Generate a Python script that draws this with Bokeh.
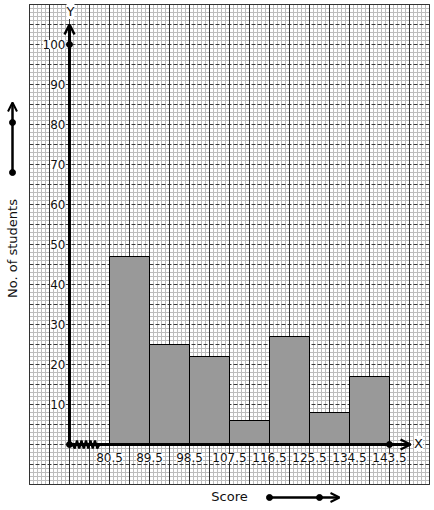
import numpy as np
from bokeh.plotting import figure
from bokeh.models import ColumnDataSource, LabelSet, Arrow, OpenHead
from bokeh.core.properties import value
from bokeh.embed import file_html
from bokeh.resources import INLINE

# ---- data ----
class_edges = [80.5, 89.5, 98.5, 107.5, 116.5, 125.5, 134.5, 143.5]
students = [47, 25, 22, 6, 27, 8, 17]
x_tick_labels = ["80.5", "89.5", "98.5", "107.5", "116.5", "125.5", "134.5", "143.5"]
y_ticks = [10, 20, 30, 40, 50, 60, 70, 80, 90, 100]
y_tick_labels = ["10", "20", "30", "40", "50", "60", "70", "80", "90", "100"]

# ---- layout helpers (canvas pixel -> data) ----
X0, PX0, SX = 62.5, 29.0, 9.0 / 40.0   # score at paper left, its px, score per px
def px2x(px):
    return X0 + (px - PX0) * SX
def py2y(py):
    return (444.0 - py) / 4.0

W, H = 434, 510
p = figure(width=W, height=H, output_backend="svg", toolbar_location=None,
           x_range=(px2x(0), px2x(W)), y_range=(py2y(H), py2y(0)),
           min_border=0, min_border_left=0, min_border_right=0,
           min_border_top=0, min_border_bottom=0)
p.axis.visible = False
p.grid.visible = False
p.outline_line_color = None
p.background_fill_color = "white"
p.border_fill_color = "white"

# ---- graph paper ----
PL, PR, PB, PT = 62.5, 152.5, -10.0, 110.0
xs_all = np.round(np.arange(PL, PR + 0.01, 0.9), 4)
ys_all = np.arange(PB, PT + 0.01, 1.0)
x_major = np.round(np.arange(PL, PR + 0.01, 4.5), 4)
y_major = np.arange(PB, PT + 0.01, 5.0)
x_minor = [v for v in xs_all if not np.any(np.isclose(v, x_major))]
y_minor = [v for v in ys_all if not np.any(np.isclose(v, y_major))]

p.segment(x0=x_minor, x1=x_minor, y0=PB, y1=PT, line_color="#bdbdbd", line_width=1)
p.segment(x0=PL, x1=PR, y0=y_minor, y1=y_minor, line_color="#bdbdbd", line_width=1)
p.segment(x0=PL, x1=PR, y0=list(y_major), y1=list(y_major), line_color="#3a3a3a",
          line_width=1, line_dash="4 2")
p.segment(x0=list(x_major), x1=list(x_major), y0=PB, y1=PT, line_color="#333333", line_width=1)
p.quad(left=PL, right=PR, bottom=PB, top=PT, fill_color=None, line_color="#333333", line_width=1)

# ---- histogram ----
src = ColumnDataSource(dict(left=class_edges[:-1], right=class_edges[1:], top=students,
                            bottom=[0] * len(students)))
p.quad(left="left", right="right", top="top", bottom="bottom", source=src,
       fill_color="#999999", line_color="black", line_width=1)

# ---- axes ----
ax_x = px2x(69)
p.add_layout(Arrow(x_start=ax_x, y_start=0, x_end=ax_x, y_end=py2y(24),
                   line_width=3, line_color="black",
                   end=OpenHead(size=10, line_width=2.5, line_color="black")))
p.add_layout(Arrow(x_start=ax_x, y_start=0, x_end=px2x(410), y_end=0,
                   line_width=3, line_color="black",
                   end=OpenHead(size=10, line_width=2.5, line_color="black")))
p.scatter(x=[ax_x, ax_x, class_edges[-1]], y=[0, y_ticks[-1], 0], size=6, color="black")

# zigzag break mark
zz_px = np.linspace(72, 99, 13)
zz_y = [(-1.0 if i % 2 else 1.0) if 0 < i < 12 else 0.0 for i in range(13)]
p.line(x=[px2x(v) for v in zz_px], y=zz_y, line_color="black", line_width=2.2)

# ---- tick labels ----
font = value("DejaVu Sans")
ysrc = ColumnDataSource(dict(x=[px2x(65)] * len(y_ticks), y=y_ticks, t=y_tick_labels))
p.add_layout(LabelSet(x="x", y="y", text="t", source=ysrc, text_align="right",
                      text_baseline="middle", text_font=font, text_font_size="12px",
                      text_color="#111111", background_fill_color="white"))
xsrc = ColumnDataSource(dict(x=class_edges, y=[py2y(457)] * len(class_edges), t=x_tick_labels))
p.add_layout(LabelSet(x="x", y="y", text="t", source=xsrc, text_align="center",
                      text_baseline="middle", text_font=font, text_font_size="12px",
                      text_color="#111111", background_fill_color="white"))

tsrc = ColumnDataSource(dict(x=[px2x(70), px2x(418)], y=[py2y(11), py2y(443)], t=["Y", "X"]))
p.add_layout(LabelSet(x="x", y="y", text="t", source=tsrc, text_align="center",
                      text_baseline="middle", text_font=font, text_font_size="13px",
                      text_color="#111111", background_fill_color="white"))

# ---- axis titles with arrows ----
p.text(x=[px2x(12)], y=[py2y(248)], text=["No. of students"], angle=np.pi / 2,
       text_align="center", text_baseline="middle", text_font=font,
       text_font_size="13px", text_color="#111111")
p.text(x=[px2x(229)], y=[py2y(496)], text=["Score"], text_align="center",
       text_baseline="middle", text_font=font, text_font_size="13px", text_color="#111111")

p.add_layout(Arrow(x_start=px2x(12), y_start=py2y(172), x_end=px2x(12), y_end=py2y(102),
                   line_width=2.5, line_color="black",
                   end=OpenHead(size=9, line_width=2, line_color="black")))
p.add_layout(Arrow(x_start=px2x(269), y_start=py2y(497), x_end=px2x(339), y_end=py2y(497),
                   line_width=2.5, line_color="black",
                   end=OpenHead(size=9, line_width=2, line_color="black")))
p.scatter(x=[px2x(12), px2x(12), px2x(269), px2x(319)],
          y=[py2y(172), py2y(122), py2y(497), py2y(497)], size=6, color="black")

open("out.html", "w").write(file_html(p, INLINE))
